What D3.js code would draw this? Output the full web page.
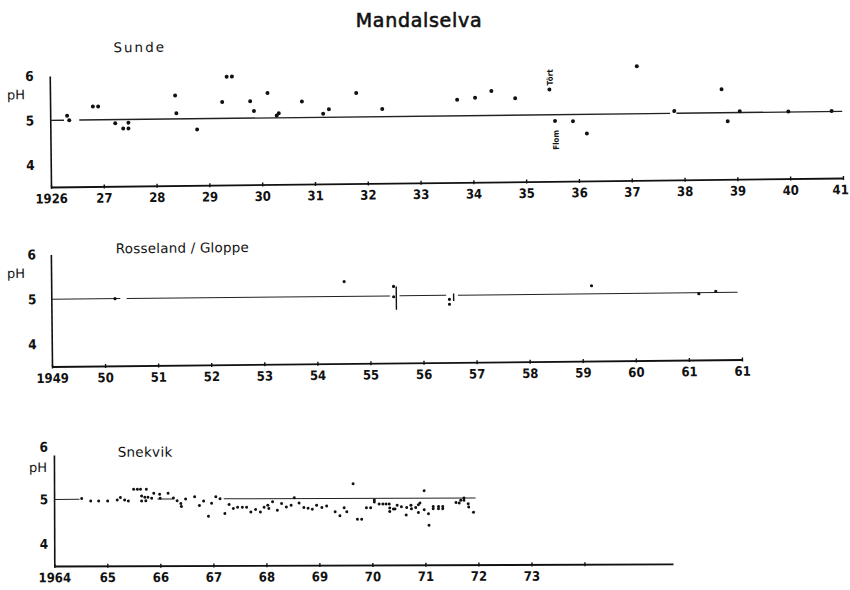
<!DOCTYPE html>
<html><head><meta charset="utf-8">
<script src="https://cdn.jsdelivr.net/npm/d3@7"></script>
<style>
html,body{margin:0;padding:0;background:#fff;}
svg{display:block;}
.tick text{font-family:"DejaVu Sans Condensed","DejaVu Sans",sans-serif;font-weight:bold;fill:#111;}
</style></head>
<body>
<svg id="chart" width="850" height="590"></svg>
<script>
// ---------- DATA ----------
const title = "Mandalselva";
const panelNames = ["Sunde", "Rosseland / Gloppe", "Snekvik"];
const yTicks = [4, 5, 6];

// Sunde 1926-1941
const sundeTickValues = [1926,1927,1928,1929,1930,1931,1932,1933,1934,1935,1936,1937,1938,1939,1940,1941];
const sundeTickLabels = ["1926","27","28","29","30","31","32","33","34","35","36","37","38","39","40","41"];
const sundeYears = [1926.32,1926.36,1926.81,1926.91,1927.23,1927.38,1927.48,1927.48,1928.37,1928.39,1928.78,
  1929.26,1929.35,1929.45,1929.79,1929.86,1930.12,1930.29,1930.33,1930.77,1931.17,1931.28,1931.80,1932.29,
  1933.71,1934.05,1934.36,1934.81,1935.46,1935.56,1935.90,1936.16,1937.12,1937.82,1938.72,1938.83,1939.06,1939.98,1940.80];
const sundePH = [5.10,5.00,5.30,5.30,4.92,4.80,4.93,4.80,5.53,5.13,4.76,
  5.37,5.94,5.94,5.38,5.16,5.56,5.05,5.10,5.36,5.08,5.18,5.54,5.17,
  5.36,5.40,5.55,5.38,5.57,4.86,4.85,4.57,6.07,5.05,5.53,4.81,5.03,5.01,5.01];
const sundeLineStart = [1926, 1926.55, 1937.86];
const sundeLineEnd   = [1926.26, 1937.74, 1941];
const sundeLinePH = 5;
const sundeNoteText = ["Tört", "Flom"];
const sundeNoteYear = [1935.46, 1935.56];
const sundeNotePH = [5.57, 4.86];

// Rosseland / Gloppe 1949-1962
const rossTickValues = [1949,1950,1951,1952,1953,1954,1955,1956,1957,1958,1959,1960,1961,1962];
const rossTickLabels = ["1949","50","51","52","53","54","55","56","57","58","59","60","61","61"];
const rossYears = [1950.20,1954.52,1955.45,1955.45,1956.50,1956.50,1959.18,1961.20,1961.52];
const rossPH = [5.00,5.33,5.21,4.98,4.91,4.80,5.18,4.98,5.03];
const rossLineStart = [1949, 1950.42, 1955.56, 1956.66];
const rossLineEnd   = [1950.30, 1955.38, 1956.44, 1961.93];
const rossLinePH = 5;
const rossRangeYears = [1955.50, 1956.58];
const rossRangeLow  = [4.69, 4.87];
const rossRangeHigh = [5.21, 5.04];

// Snekvik 1964-1975
const snekTickValues = [1964,1965,1966,1967,1968,1969,1970,1971,1972,1973,1974];
const snekTickLabels = ["1964","65","66","67","68","69","70","71","72","73",""];
const snekYears = [1964.52,1964.69,1964.84,1965.01,1965.19,1965.25,1965.33,1965.40,1965.50,1965.57,1965.63,1965.74,
  1965.65,1965.65,1965.71,1965.77,1965.73,1965.84,1965.88,1965.99,1966.00,1966.15,1966.25,1966.32,1966.39,1966.40,
  1966.48,1966.65,1966.74,1966.82,1966.91,1966.97,1967.05,1967.13,1967.22,1967.30,1967.38,1967.46,1967.55,1967.63,
  1967.71,1967.80,1967.89,1967.96,1968.03,1968.05,1968.12,1968.21,1968.29,1968.38,1968.47,1968.53,1968.62,1968.71,
  1968.79,1968.87,1968.95,1969.05,1969.14,1969.30,1969.39,1969.47,1969.52,1969.64,1969.72,1969.80,1969.89,1969.97,
  1970.04,1970.04,1970.13,1970.20,1970.26,1970.32,1970.33,1970.33,1970.40,1970.43,1970.47,1970.55,1970.64,1970.65,
  1970.73,1970.74,1970.82,1970.87,1970.90,1970.87,1970.98,1970.98,1971.06,1971.07,1971.15,1971.15,1971.25,1971.25,
  1971.33,1971.33,1971.58,1971.64,1971.67,1971.73,1971.73,1971.81,1971.82,1971.91];
const snekPH = [5.02,4.96,4.96,4.96,4.98,5.04,4.98,4.96,5.22,5.22,5.22,5.22,
  5.07,4.96,5.04,5.04,4.96,5.02,5.13,5.11,5.02,5.13,5.02,4.96,4.90,4.83,
  5.00,5.05,4.85,4.95,4.61,4.90,5.05,5.00,4.67,4.87,4.78,4.81,4.81,4.81,
  4.70,4.76,4.70,4.81,4.85,4.78,4.93,4.74,4.89,4.81,4.85,5.02,4.90,4.80,
  4.78,4.76,4.85,4.80,4.83,4.70,4.61,4.79,4.70,5.33,4.53,4.53,4.79,4.79,
  4.96,4.92,4.87,4.87,4.87,4.87,4.78,4.70,4.76,4.76,4.84,4.81,4.62,4.79,
  4.84,4.76,4.79,4.85,4.89,4.68,5.17,4.74,4.65,4.39,4.81,4.76,4.81,4.76,
  4.81,4.76,4.90,4.89,4.95,5.00,4.95,4.87,4.80,4.68];
const snekLineStart = [1964, 1965.95, 1967.20];
const snekLineEnd   = [1964.48, 1966.25, 1971.95];
const snekLinePH = 5;

// ---------- DRAW ----------
const svg = d3.select("#chart");
const ink = "#111";

svg.append("text").attr("x", 419).attr("y", 27).attr("text-anchor", "middle")
  .attr("font-family", "DejaVu Sans, sans-serif").attr("font-size", 19)
  .attr("fill", ink).attr("stroke", ink).attr("stroke-width", 0.6)
  .attr("letter-spacing", 0.7).text(title);

function panel(cfg) {
  const x = d3.scaleLinear().domain(cfg.xDomain).range(cfg.xRange);
  const y = d3.scaleLinear().domain([3.5, 6]).range(cfg.yRange);
  const ox = cfg.xRange[0], oy = cfg.yRange[0];
  const g = svg.append("g").attr("transform", `rotate(${cfg.angle},${ox},${oy})`);

  // x axis
  const xa = g.append("g").attr("transform", `translate(0,${oy})`)
    .call(d3.axisBottom(x).tickValues(cfg.tickValues)
      .tickFormat((d, i) => cfg.tickLabels[i]).tickSizeInner(2).tickSizeOuter(0).tickPadding(5));
  xa.select(".domain").attr("stroke", ink).attr("stroke-width", 1.8);
  xa.selectAll(".tick line").attr("y1", -2).attr("y2", 2).attr("stroke", ink).attr("stroke-width", 1.4);
  const n = cfg.tickValues.length;
  xa.selectAll(".tick text").attr("font-size", 13)
    .attr("dx", (d, i) => (i === n - 1 ? cfg.lastDx : 0));

  // y axis
  const ya = g.append("g").attr("transform", `translate(${ox},0)`)
    .call(d3.axisLeft(y).tickValues(yTicks).tickFormat(d3.format("d"))
      .tickSize(0).tickPadding(cfg.yPad));
  ya.select(".domain").attr("stroke", ink).attr("stroke-width", 1.6);
  ya.selectAll(".tick text").attr("font-size", 13.5)
    .attr("dy", d => (d === 6 ? cfg.sixDy : 0.32) + "em");

  g.append("text").attr("x", ox + cfg.pHdx).attr("y", y(5.55) + cfg.pHdy)
    .attr("text-anchor", "middle").attr("font-family", "DejaVu Sans, sans-serif")
    .attr("font-size", 13).attr("fill", ink).text("pH");

  g.append("text").attr("x", cfg.nameX).attr("y", cfg.nameY)
    .attr("font-family", "DejaVu Sans, sans-serif").attr("font-size", 13.5)
    .attr("letter-spacing", cfg.nameSpacing).attr("fill", ink).text(cfg.name);

  // reference line segments
  g.append("g").selectAll("line").data(cfg.lineStart).join("line")
    .attr("x1", d => x(d)).attr("x2", (d, i) => x(cfg.lineEnd[i]))
    .attr("y1", y(cfg.linePH)).attr("y2", y(cfg.linePH))
    .attr("stroke", "#222").attr("stroke-width", cfg.lineW);

  // points
  g.append("g").selectAll("circle").data(cfg.years).join("circle")
    .attr("cx", d => x(d)).attr("cy", (d, i) => y(cfg.ph[i]))
    .attr("r", cfg.r).attr("fill", ink);

  return { g, x, y };
}

const p1 = panel({
  name: panelNames[0], nameX: 115, nameY: 53, nameSpacing: 2,
  xDomain: [1926, 1941], xRange: [51, 843], yRange: [187, 76], angle: -0.65,
  tickValues: sundeTickValues, tickLabels: sundeTickLabels, yPad: 16, sixDy: 0.32, lastDx: -3,
  pHdx: -34, pHdy: 3,
  lineStart: sundeLineStart, lineEnd: sundeLineEnd, linePH: sundeLinePH, lineW: 1.4,
  years: sundeYears, ph: sundePH, r: 2
});
p1.g.append("g").selectAll("text").data(sundeNoteText).join("text")
  .attr("transform", (d, i) => {
    const px = p1.x(sundeNoteYear[i]) + 1;
    const py = p1.y(sundeNotePH[i]) + (i === 0 ? -12 : 19);
    return `translate(${px},${py}) rotate(-90)`;
  })
  .attr("text-anchor", "middle").attr("dominant-baseline", "central")
  .attr("font-family", "DejaVu Sans Condensed, sans-serif").attr("font-weight", "bold")
  .attr("font-size", 8).attr("fill", ink).text(d => d);

const p2 = panel({
  name: panelNames[1], nameX: 117, nameY: 254, nameSpacing: 0.2,
  xDomain: [1949, 1962], xRange: [52, 742], yRange: [366.5, 254.5], angle: -0.58,
  tickValues: rossTickValues, tickLabels: rossTickLabels, yPad: 15, sixDy: 0.32, lastDx: 0,
  pHdx: -35, pHdy: 3,
  lineStart: rossLineStart, lineEnd: rossLineEnd, linePH: rossLinePH, lineW: 1,
  years: rossYears, ph: rossPH, r: 1.6
});
p2.g.append("g").selectAll("line").data(rossRangeYears).join("line")
  .attr("x1", d => p2.x(d)).attr("x2", d => p2.x(d))
  .attr("y1", (d, i) => p2.y(rossRangeHigh[i])).attr("y2", (d, i) => p2.y(rossRangeLow[i]))
  .attr("stroke", ink).attr("stroke-width", 1.4);

const p3 = panel({
  name: panelNames[2], nameX: 118, nameY: 457, nameSpacing: 0.3,
  xDomain: [1964, 1975.67], xRange: [54.3, 673], yRange: [566, 455], angle: -0.19,
  tickValues: snekTickValues, tickLabels: snekTickLabels, yPad: 6, sixDy: -0.28, lastDx: 0,
  pHdx: -16, pHdy: -3,
  lineStart: snekLineStart, lineEnd: snekLineEnd, linePH: snekLinePH, lineW: 1,
  years: snekYears, ph: snekPH, r: 1.5
});
</script>
</body></html>
